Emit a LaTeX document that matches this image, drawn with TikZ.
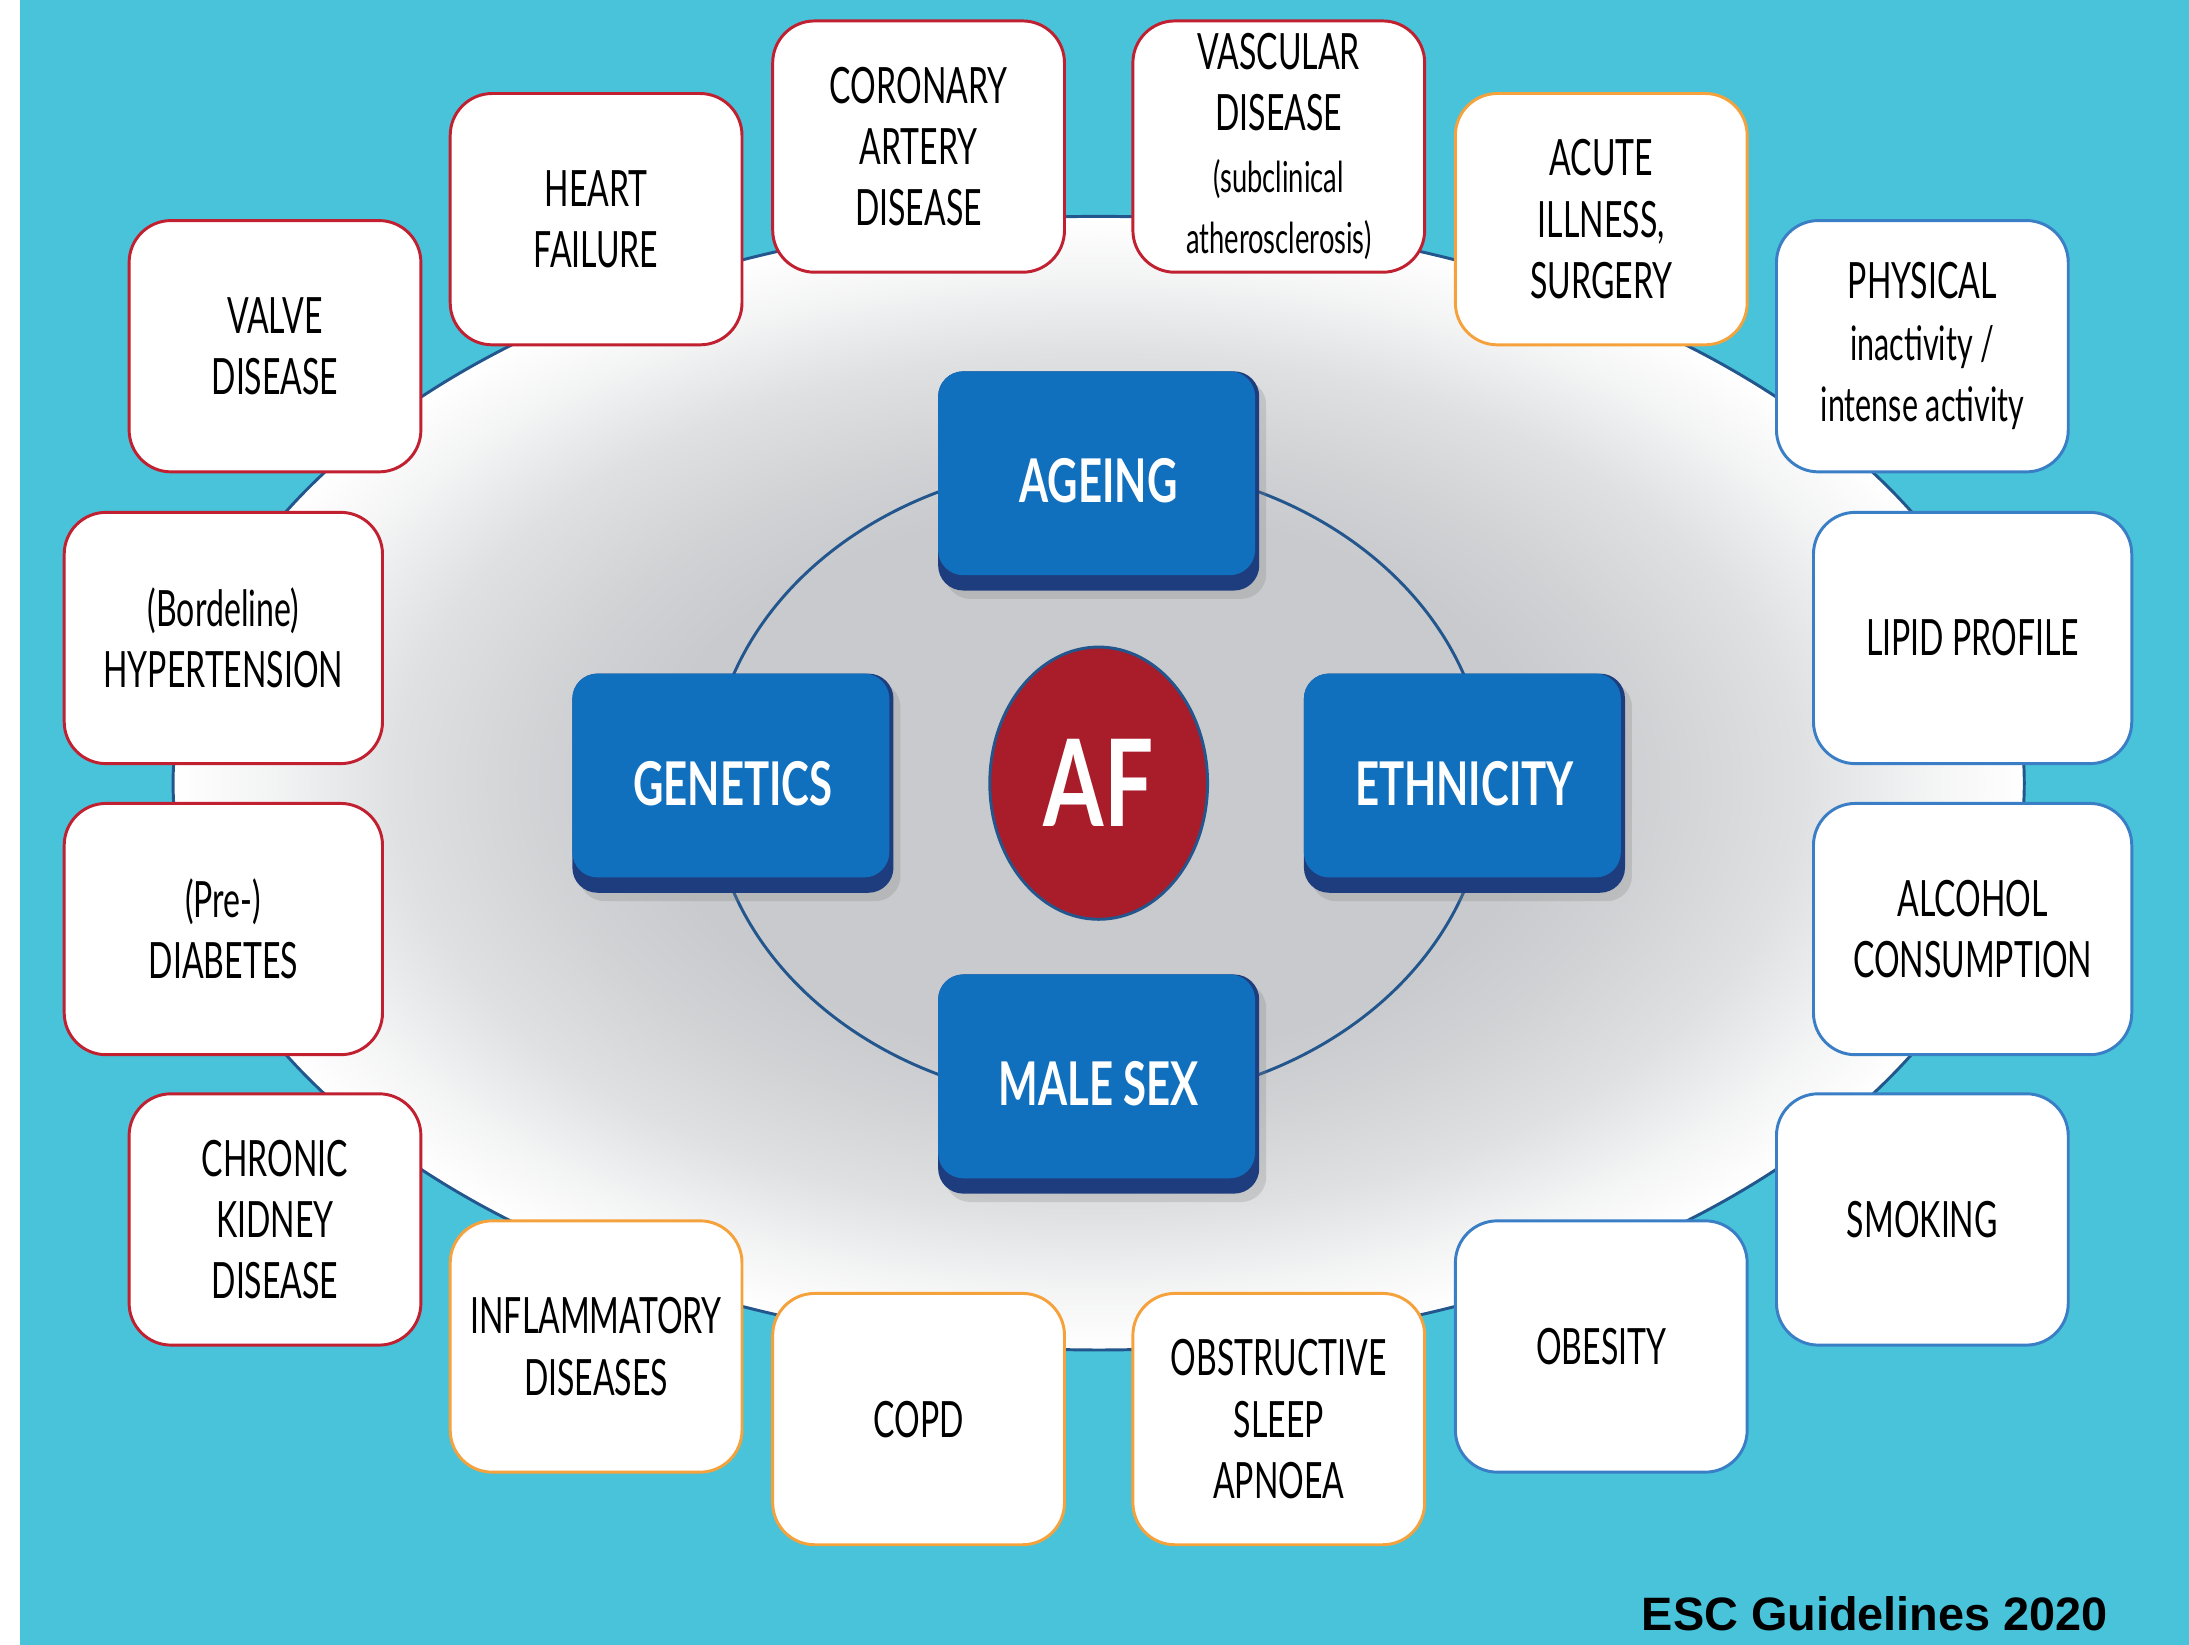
\documentclass[tikz,border=0pt]{standalone}
\usepackage{fontspec}
\setmainfont{Lato}[FakeStretch=0.64]
\newfontfamily\riskfont{Lato}[FakeStretch=0.695]
\newfontfamily\affont{Lato}[FakeStretch=0.72]
\newfontfamily\escfont{Liberation Sans}
\usetikzlibrary{shapes.geometric, shadows}
\definecolor{bgteal}{HTML}{48C3DA}
\definecolor{rimred}{HTML}{C0202F}
\definecolor{rimorange}{HTML}{F5A23C}
\definecolor{rimblue}{HTML}{3A7EC6}
\definecolor{riskblue}{HTML}{1170BD}
\definecolor{risknavy}{HTML}{1E3D7E}
\definecolor{afred}{HTML}{A91C29}
\definecolor{ringblue}{HTML}{24568E}
\definecolor{halogray}{HTML}{C8CACD}
\pgfdeclareradialshading{halo}{\pgfpoint{0bp}{0bp}}{color(0bp)=(halogray); color(12bp)=(halogray); color(15bp)=(halogray!85!white); color(19bp)=(halogray!58!white); color(22.5bp)=(halogray!20!white); color(25bp)=(white); color(50bp)=(white)}
\newcommand*{\smallfac}{\fontsize{8.7}{10.5}\selectfont}
\newcommand*{\lowfac}{\fontsize{9.7}{12.8}\selectfont}
\tikzset{
    factor/.style={draw, line width=0.6pt, fill=white, rounded corners=0.3cm, minimum width=2.09cm, minimum height=1.8cm, inner sep=0pt, align=center, font=\fontsize{10.2}{12.5}\selectfont},
    wide/.style={minimum width=2.28cm},
    risk/.style={fill=risknavy, rounded corners=0.18cm, minimum width=2.3cm, minimum height=1.57cm, inner sep=0pt, text=white, font=\riskfont\bfseries\fontsize{12.3}{14}\selectfont, drop shadow={opacity=0.25, shadow xshift=0.05cm, shadow yshift=-0.06cm},
        path picture={\fill[riskblue, rounded corners=0.18cm](path picture bounding box.north west)rectangle([xshift=-0.03cm, yshift=0.11cm]path picture bounding box.south east);}}
}
\begin{document}
\begin{tikzpicture}
    \useasboundingbox(-7.87, -6.17)rectangle(7.81, 5.61);
    \fill[white](-7.87, -6.17)rectangle(7.81, 5.61);
    \fill[bgteal](-7.73, -6.17)rectangle(7.81, 5.61);
    \shadedraw[shading=halo, draw=ringblue, line width=0.6pt](0, 0)ellipse(6.63 and 4.06);
    \draw[ringblue, line width=0.6pt](0, 0)ellipse(2.78 and 2.29);
    \node[factor, draw=rimred](valve)at(-5.9, 3.13){VALVE\\DISEASE};
    \node[factor, draw=rimred](heartfail)at(-3.6, 4.04){HEART\\FAILURE};
    \node[factor, draw=rimred](cad)at(-1.29, 4.56){CORONARY\\ARTERY\\DISEASE};
    \node[factor, draw=rimred](vascular)at(1.29, 4.56){VASCULAR\\DISEASE\\\smallfac(subclinical\\\smallfac atherosclerosis)};
    \node[factor, draw=rimorange](acute)at(3.6, 4.04){ACUTE\\ILLNESS,\\SURGERY};
    \node[factor, draw=rimblue](physical)at(5.9, 3.13){PHYSICAL\\\lowfac inactivity /\\\lowfac intense activity};
    \node[factor, wide, draw=rimblue](lipid)at(6.26, 1.04){LIPID PROFILE};
    \node[factor, wide, draw=rimblue](alcohol)at(6.26, -1.045){ALCOHOL\\CONSUMPTION};
    \node[factor, draw=rimblue](smoking)at(5.9, -3.125){SMOKING};
    \node[factor, draw=rimblue](obesity)at(3.6, -4.035){OBESITY};
    \node[factor, draw=rimorange](osa)at(1.29, -4.555){OBSTRUCTIVE\\SLEEP\\APNOEA};
    \node[factor, draw=rimorange](copd)at(-1.29, -4.555){COPD};
    \node[factor, draw=rimorange](inflam)at(-3.6, -4.035){INFLAMMATORY\\DISEASES};
    \node[factor, draw=rimred](ckd)at(-5.9, -3.125){CHRONIC\\KIDNEY\\DISEASE};
    \node[factor, wide, draw=rimred](diabetes)at(-6.27, -1.045){(Pre-)\\DIABETES};
    \node[factor, wide, draw=rimred](hyper)at(-6.27, 1.04){(Bordeline)\\HYPERTENSION};
    \node[risk](ageing)at(0, 2.165){AGEING};
    \node[risk](genetics)at(-2.62, 0){GENETICS};
    \node[risk](ethnicity)at(2.62, 0){ETHNICITY};
    \node[risk](malesex)at(0, -2.155){MALE SEX};
    \node[ellipse, draw=ringblue, line width=0.6pt, fill=afred, minimum width=1.56cm, minimum height=1.95cm, inner sep=0pt, text=white, font=\affont\bfseries\fontsize{24.6}{26}\selectfont](af)at(0, 0){AF};
    \node[anchor=base, font=\escfont\bfseries\fontsize{9.55}{11}\selectfont](esc)at(5.56, -6.07){ESC Guidelines 2020};
\end{tikzpicture}
\end{document}
